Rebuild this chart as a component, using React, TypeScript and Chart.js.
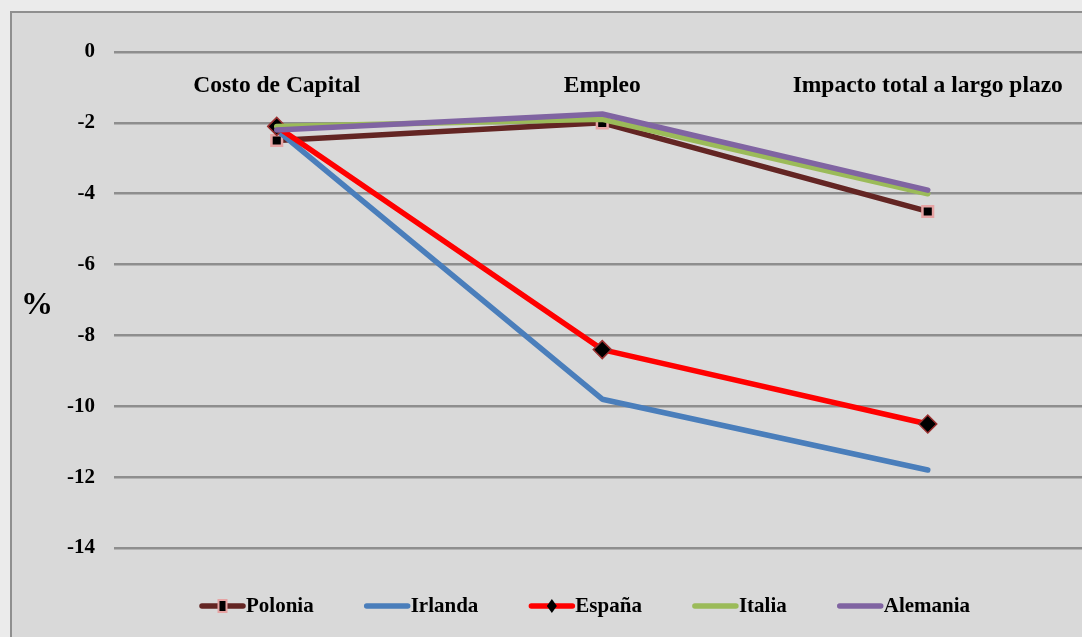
import React, { useEffect, useRef } from "react";
import { Chart, registerables } from "chart.js";

Chart.register(...registerables);

const categories = ["Costo de Capital", "Empleo", "Impacto total a largo plazo"];
const polonia = [-2.5, -2.0, -4.5];
const irlanda = [-2.2, -9.8, -11.8];
const espana = [-2.1, -8.4, -10.5];
const italia = [-2.1, -1.9, -4.0];
const alemania = [-2.2, -1.75, -3.9];
const yTicks = [0, -2, -4, -6, -8, -10, -12, -14];

const FONT = "'Liberation Serif', 'Times New Roman', serif";

const overlayPlugin = {
  id: "overlay",
  afterDraw(chart: any) {
    const ctx = chart.ctx as CanvasRenderingContext2D;
    const xs = chart.scales.x;
    ctx.save();
    // category labels
    ctx.fillStyle = "#000";
    ctx.font = `bold 23.5px ${FONT}`;
    ctx.textAlign = "center";
    ctx.textBaseline = "middle";
    categories.forEach((c, i) => {
      ctx.fillText(c, xs.getPixelForValue(i), 73);
    });
    // % title
    ctx.font = `bold 32px ${FONT}`;
    ctx.fillText("%", 25, 293);
    // legend
    ctx.font = `bold 21px ${FONT}`;
    ctx.textAlign = "left";
    let x = 188;
    const y = 593;
    const lineLen = 45;
    chart.data.datasets.forEach((ds: any) => {
      ctx.strokeStyle = ds.borderColor;
      ctx.lineWidth = 5.5;
      ctx.lineCap = "round";
      ctx.beginPath();
      ctx.moveTo(x + 2, y);
      ctx.lineTo(x + lineLen - 2, y);
      ctx.stroke();
      const cx = x + lineLen / 2;
      if (ds.pointStyle === "rect" && ds.pointRadius > 0) {
        ctx.fillStyle = ds.pointBorderColor;
        ctx.fillRect(cx - 5, y - 7, 10, 14);
        ctx.fillStyle = "#000";
        ctx.fillRect(cx - 3, y - 5, 6, 10);
      } else if (ds.pointStyle === "rectRot" && ds.pointRadius > 0) {
        ctx.fillStyle = "#000";
        ctx.beginPath();
        ctx.moveTo(cx, y - 7);
        ctx.lineTo(cx + 5, y);
        ctx.lineTo(cx, y + 7);
        ctx.lineTo(cx - 5, y);
        ctx.closePath();
        ctx.fill();
      }
      ctx.fillStyle = "#000";
      ctx.fillText(ds.label, x + lineLen + 1, y + 1);
      const w = ctx.measureText(ds.label).width;
      x += lineLen + 1 + w + 51;
    });
    ctx.restore();
  },
};

export default function App() {
  const ref = useRef<HTMLCanvasElement | null>(null);
  useEffect(() => {
    if (!ref.current) return;
    const chart = new Chart(ref.current, {
      type: "line",
      data: {
        labels: categories,
        datasets: [
          {
            label: "Polonia",
            data: polonia,
            borderColor: "#632523",
            backgroundColor: "#632523",
            pointStyle: "rect",
            pointRadius: 7.5,
            pointBackgroundColor: "#000",
            pointBorderColor: "#e6a3a3",
            pointBorderWidth: 2.5,
            order: 5,
          },
          {
            label: "Irlanda",
            data: irlanda,
            borderColor: "#4a7ebb",
            backgroundColor: "#4a7ebb",
            pointRadius: 0,
            order: 4,
          },
          {
            label: "España",
            data: espana,
            borderColor: "#ff0000",
            backgroundColor: "#ff0000",
            pointStyle: "rectRot",
            pointRadius: 9,
            pointBackgroundColor: "#000",
            pointBorderColor: "#9a3030",
            pointBorderWidth: 1.5,
            order: 3,
          },
          {
            label: "Italia",
            data: italia,
            borderColor: "#9bbb59",
            backgroundColor: "#9bbb59",
            pointRadius: 0,
            order: 2,
          },
          {
            label: "Alemania",
            data: alemania,
            borderColor: "#8064a2",
            backgroundColor: "#8064a2",
            pointRadius: 0,
            order: 1,
          },
        ] as any,
      },
      options: {
        responsive: false,
        animation: false,
        layout: { padding: { top: 39, bottom: 89, left: 0, right: 11.5 } },
        elements: {
          line: { borderWidth: 5.5, tension: 0, borderCapStyle: "round", borderJoinStyle: "round" },
          point: { hoverRadius: 0 },
        },
        plugins: {
          legend: { display: false },
          tooltip: { enabled: false },
        },
        scales: {
          x: { type: "category", display: false, offset: true },
          y: {
            min: -14,
            max: 0,
            afterFit: (s: any) => {
              s.width = 102;
            },
            afterBuildTicks: (s: any) => {
              s.ticks = yTicks.map((v) => ({ value: v }));
            },
            border: { display: false },
            grid: { color: "#8e8e8e", lineWidth: 2.5, drawTicks: false },
            ticks: {
              color: "#000",
              padding: 19,
              font: { family: FONT, size: 21, weight: "bold" },
            },
          },
        },
      },
      plugins: [overlayPlugin],
    });
    return () => chart.destroy();
  }, []);

  return (
    <div
      style={{
        position: "fixed",
        left: 0,
        top: 0,
        width: 1082,
        height: 637,
        overflow: "hidden",
        background: "#ebebeb",
      }}
    >
      <div
        style={{
          position: "absolute",
          left: 10,
          top: 11,
          width: 1100,
          height: 660,
          border: "2px solid #8f8f8f",
          background: "#d9d9d9",
        }}
      >
        <canvas ref={ref} width={1090} height={624} style={{ display: "block", width: 1090, height: 624 }} />
      </div>
    </div>
  );
}
